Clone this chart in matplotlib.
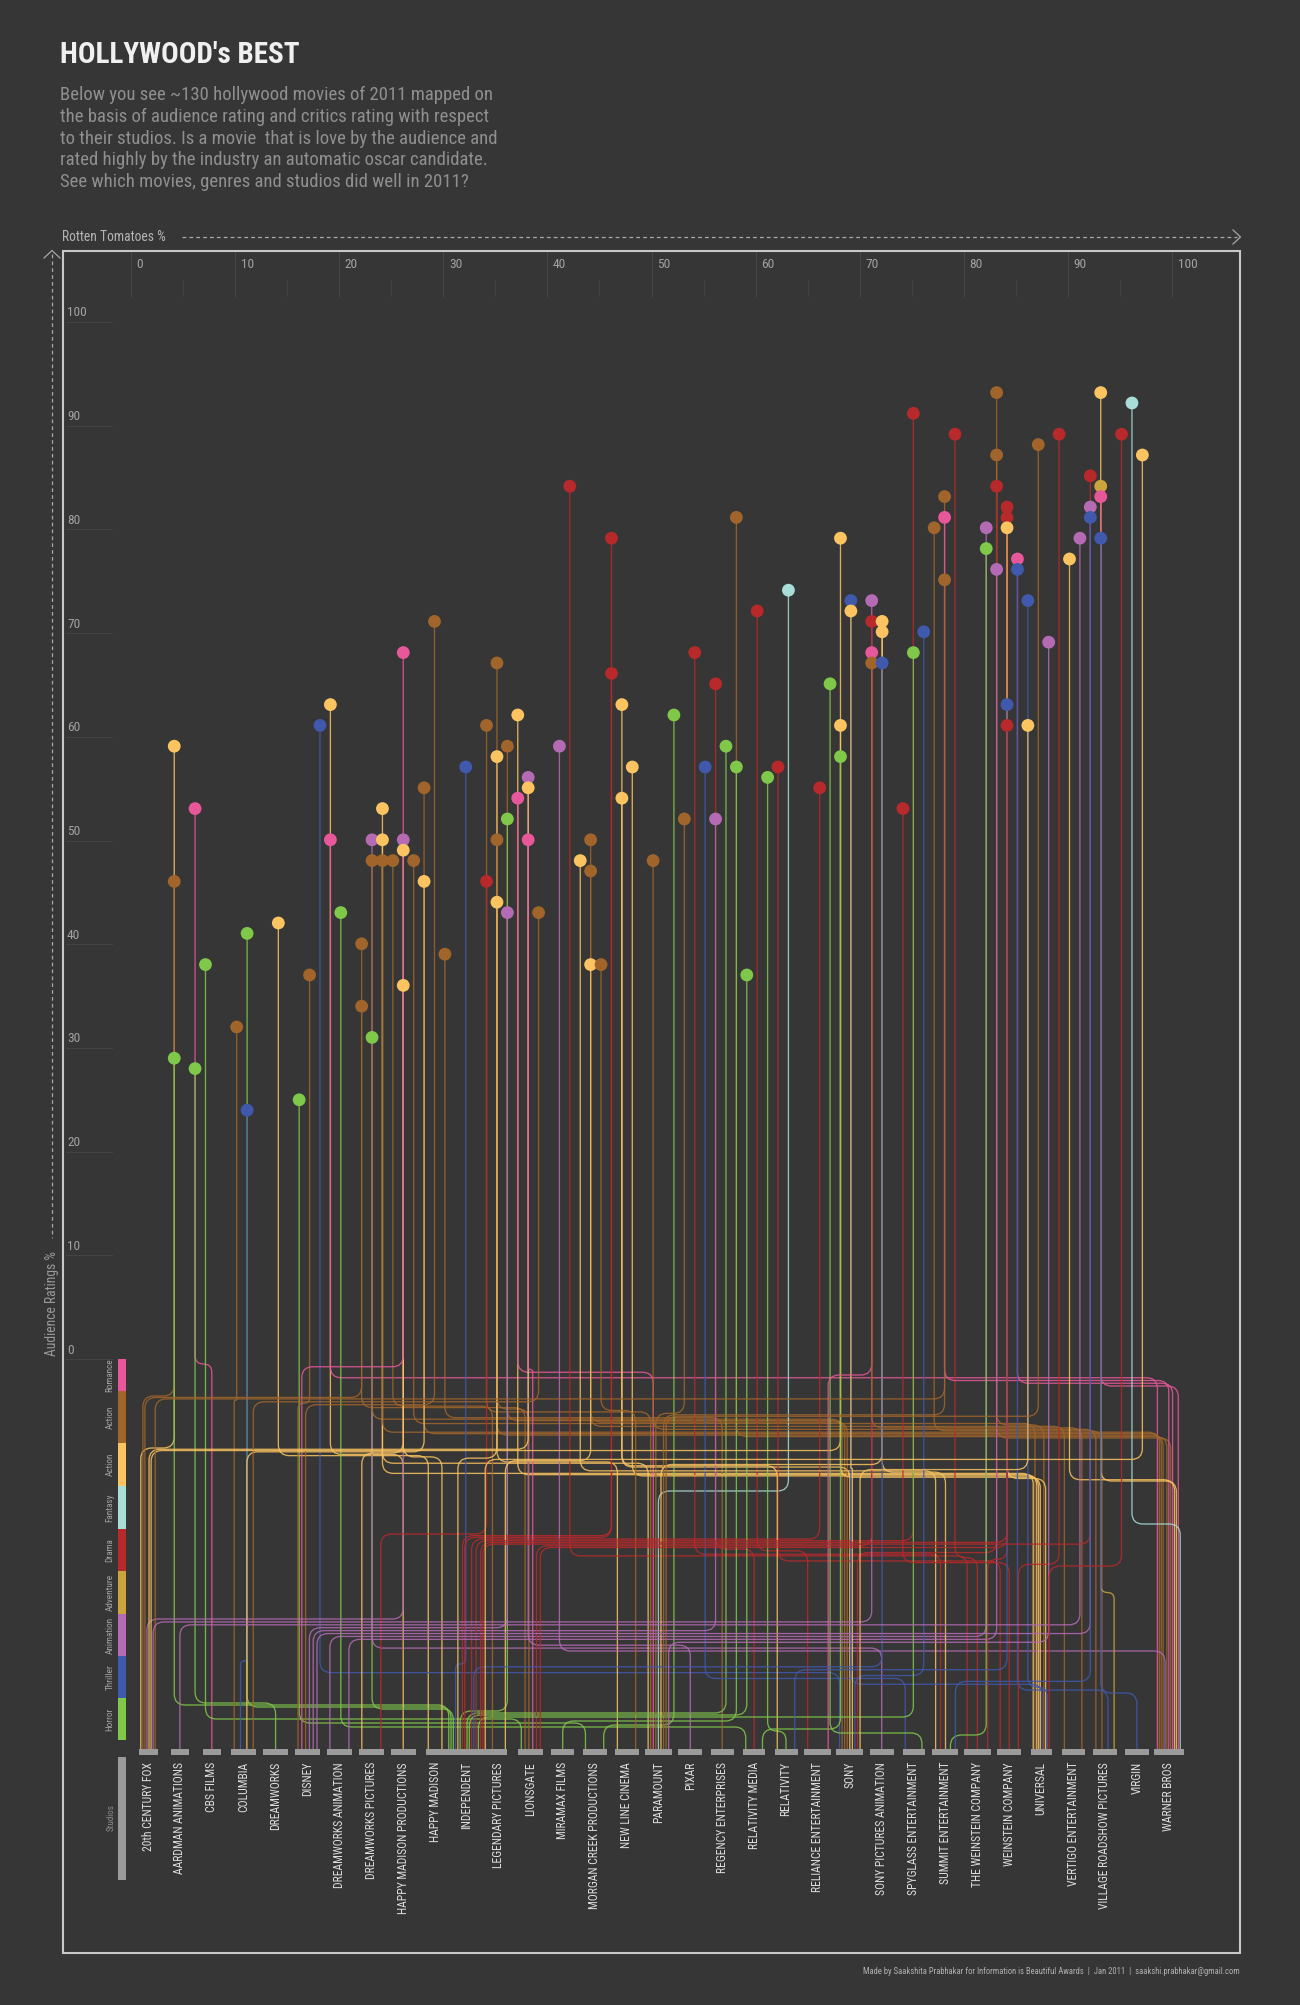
import numpy as np
import matplotlib
matplotlib.use('Agg')
import matplotlib.pyplot as plt
from matplotlib.path import Path
from matplotlib.patches import PathPatch, Rectangle
from matplotlib import font_manager as fm

# ---------------- data ----------------
critics = [4, 4, 4, 6, 6, 7, 10, 11, 11, 14, 16, 17, 18, 19, 19, 20, 22, 22, 23, 23, 23, 24, 24, 24, 25, 26, 26, 26, 26, 27,
           28, 28, 29, 30, 32, 34, 34, 35, 35, 35, 35, 36, 36, 36, 37, 37,
           42, 46, 58, 63, 60, 54, 46, 56, 47, 52, 41, 57, 48, 55, 58, 61, 62, 66, 38, 38, 47, 53, 56, 38, 44, 43, 44, 50,
           39, 44, 45, 59, 67, 68, 68, 68,
           75, 79, 83, 83, 83, 78, 78, 77, 82, 82, 83, 78, 69, 69, 71, 71, 72, 72, 71, 71, 72, 76, 75, 74,
           84, 84, 84, 84, 84, 85, 85, 86, 86, 87, 89, 88, 90, 91, 92, 92, 92, 93, 93, 93, 93, 96, 95, 97]
audience = [58, 45, 28, 52, 27, 37, 31, 40, 23, 41, 24, 36, 60, 62, 49, 42, 39, 33, 30, 49, 47, 52, 49, 47, 47, 49, 48, 35, 67, 47,
            54, 45, 70, 38, 56, 60, 45, 66, 57, 49, 43, 58, 51, 42, 61, 53,
            83, 78, 80, 73, 71, 67, 65, 64, 62, 61, 58, 58, 56, 56, 56, 55, 56, 54, 55, 54, 53, 51, 51, 49, 49, 47, 46, 47,
            42, 37, 37, 36, 64, 78, 60, 57,
            90, 88, 92, 86, 83, 82, 80, 79, 79, 77, 75, 74, 72, 71, 72, 70, 70, 69, 67, 66, 66, 69, 67, 52,
            81, 80, 79, 62, 60, 76, 75, 72, 60, 87, 88, 68, 76, 78, 84, 81, 80, 92, 83, 82, 78, 91, 88, 86]
genre_idx = [2, 1, 8, 0, 8, 8, 1, 8, 7, 2, 8, 1, 7, 2, 0, 8, 1, 1, 8, 6, 1, 2, 2, 1, 1, 6, 2, 2, 0, 1,
             1, 2, 1, 1, 7, 1, 4, 1, 2, 1, 2, 1, 8, 6, 2, 0,
             4, 4, 1, 3, 4, 4, 4, 4, 2, 8, 6, 8, 2, 7, 8, 8, 4, 4, 6, 2, 2, 1, 6, 0, 1, 2, 1, 1,
             1, 2, 1, 8, 8, 2, 2, 8,
             4, 4, 1, 1, 4, 1, 0, 1, 6, 8, 6, 1, 7, 2, 6, 4, 2, 2, 0, 1, 7, 7, 8, 4,
             4, 4, 2, 7, 4, 0, 7, 7, 2, 1, 4, 6, 2, 6, 4, 6, 7, 2, 5, 0, 7, 3, 4, 2]
studio_idx = [0, 0, 10, 2, 4, 12, 3, 10, 3, 9, 14, 5, 22, 8, 32, 19, 12, 0, 10, 23, 22, 16, 28, 32, 11, 0, 9, 7, 5, 28,
              32, 3, 5, 18, 10, 16, 7, 32, 10, 12, 15, 22, 10, 5, 28, 16,
              26, 10, 32, 16, 21, 25, 10, 19, 22, 14, 32, 10, 28, 24, 13, 20, 27, 10, 17, 0, 20, 16, 5, 12, 22, 25, 29, 30,
              3, 11, 15, 10, 24, 28, 0, 19,
              10, 26, 32, 28, 22, 16, 32, 30, 6, 25, 6, 0, 28, 22, 0, 12, 16, 25, 21, 29, 10, 22, 10, 27,
              26, 10, 28, 20, 12, 32, 30, 28, 22, 16, 27, 16, 32, 1, 10, 5, 25, 32, 30, 32, 31, 32, 28, 10]

genres = ['Romance', 'Action', 'Action', 'Fantasy', 'Drama', 'Adventure', 'Animation', 'Thriller', 'Horror']
studios = ['20th CENTURY FOX', 'AARDMAN ANIMATIONS', 'CBS FILMS', 'COLUMBIA', 'DREAMWORKS', 'DISNEY',
           'DREAMWORKS ANIMATION', 'DREAMWORKS PICTURES', 'HAPPY MADISON PRODUCTIONS', 'HAPPY MADISON',
           'INDEPENDENT', 'LEGENDARY PICTURES', 'LIONSGATE', 'MIRAMAX FILMS', 'MORGAN CREEK PRODUCTIONS',
           'NEW LINE CINEMA', 'PARAMOUNT', 'PIXAR', 'REGENCY ENTERPRISES', 'RELATIVITY MEDIA', 'RELATIVITY',
           'RELIANCE ENTERTAINMENT', 'SONY', 'SONY PICTURES ANIMATION', 'SPYGLASS ENTERTAINMENT',
           'SUMMIT ENTERTAINMENT', 'THE WEINSTEIN COMPANY', 'WEINSTEIN COMPANY', 'UNIVERSAL',
           'VERTIGO ENTERTAINMENT', 'VILLAGE ROADSHOW PICTURES', 'VIRGIN', 'WARNER BROS']
x_ticks = list(range(0, 101, 10))
y_ticks = list(range(100, -1, -10))

title = "HOLLYWOOD's BEST"
intro_lines = ["Below you see ~130 hollywood movies of 2011 mapped on",
               "the basis of audience rating and critics rating with respect",
               "to their studios. Is a movie  that is love by the audience and",
               "rated highly by the industry an automatic oscar candidate.",
               "See which movies, genres and studios did well in 2011?"]
footer = ("Made by Saakshita Prabhakar for Information is Beautiful Awards  |  Jan 2011  |  "
          "saakshi.prabhakar@gmail.com")

# ---------------- style / layout ----------------
genre_colors = ['#e9579b', '#a1652b', '#fbc461', '#a9ddd7', '#b8292b', '#cba53c', '#b46bb4', '#4059ad', '#80c84a']
band_px = [(1359, 1391), (1391, 1443), (1443, 1486), (1486, 1529), (1529, 1571),
           (1571, 1614), (1614, 1656), (1656, 1698), (1698, 1740)]
studio_bar_w = [19, 18, 18, 25, 25, 25, 25, 25, 25, 18, 48, 17, 25, 23, 24, 24, 27, 24,
                23, 22, 23, 27, 27, 24, 22, 26, 27, 24, 21, 23, 24, 24, 30]

BG = '#353635'
avail = {f.name for f in fm.fontManager.ttflist}


def pick(*names):
    for nm in names:
        if nm in avail:
            return nm
    return 'DejaVu Sans'


FONT = pick('Roboto Condensed', 'Liberation Sans Narrow', 'Open Sans Condensed', 'DejaVu Sans')
plt.rcParams['font.family'] = [FONT, 'DejaVu Sans']

W, H = 1300, 2005
fig = plt.figure(figsize=(W / 100, H / 100), dpi=100, facecolor=BG)
ax = fig.add_axes([0, 0, 1, 1])
X0P, XS, Y0P, YS = 132.6, 10.41, 1349.4, 10.4
ax.set_xlim(-X0P / XS, (W - X0P) / XS)
ax.set_ylim((Y0P - H) / YS, Y0P / YS)
ax.axis('off')


def dx(xp):
    return (xp - X0P) / XS


def dy(yp):
    return (Y0P - yp) / YS


def fx(xp):
    return xp / W


def fy(yp):
    return 1 - yp / H


# ---------------- header ----------------
fig.text(fx(60), fy(63), title, fontsize=21, fontweight='bold', color='#f0f0f0', va='baseline', ha='left')
for i, line in enumerate(intro_lines):
    fig.text(fx(60), fy(95 + 21.8 * i), line, fontsize=13.5, color='#8f8f8f', va='center', ha='left')

# frame
ax.add_patch(Rectangle((dx(63), dy(1953)), dx(1240) - dx(63), dy(251) - dy(1953),
                       fill=False, ec='#c8c8c8', lw=1.5, zorder=1))

# axis arrows
acol = '#a8a8a8'
fig.text(fx(62), fy(237), 'Rotten Tomatoes %', fontsize=9.8, color='#b4b4b4', va='center', ha='left')
ax.plot([dx(182), dx(1237)], [dy(237), dy(237)], color=acol, lw=0.9, ls=(0, (3, 2.5)))
ax.plot([dx(1233), dx(1240.5), dx(1233)], [dy(230), dy(237), dy(244)], color=acol, lw=0.9)
ax.plot([dx(52), dx(52)], [dy(254), dy(1238)], color=acol, lw=0.9, ls=(0, (3, 2.5)))
ax.plot([dx(44), dx(52), dx(60)], [dy(258), dy(250.5), dy(258)], color=acol, lw=0.9)
fig.text(fx(52), fy(1303), 'Audience Ratings %', fontsize=9.8, color='#9a9a9a', rotation=90,
         va='center', ha='center')

# ticks
for v in x_ticks:
    ax.plot([v - 0.15, v - 0.15], [dy(252), dy(296)], color='#464746', lw=0.8, zorder=0)
    if v < 100:
        ax.plot([v + 4.85, v + 4.85], [dy(281), dy(296)], color='#404140', lw=0.8, zorder=0)
    fig.text(fx(X0P + XS * v + 4), fy(264), str(v), fontsize=9.6, color='#a2a2a2', va='center', ha='left')
for v in y_ticks:
    yp = 313 + (100 - v) * 10.37
    ax.plot([dx(66), dx(112)], [dy(yp + 9), dy(yp + 9)], color='#424342', lw=0.8, zorder=0)
    fig.text(fx(67), fy(yp), str(v), fontsize=9.6, color='#a2a2a2', va='center', ha='left')

# genre legend
for g, (t, b) in enumerate(band_px):
    ax.add_patch(Rectangle((dx(118), dy(b)), dx(126) - dx(118), dy(t) - dy(b),
                           color=genre_colors[g], lw=0, zorder=3))
    fig.text(fx(110), fy((t + b) / 2), genres[g], fontsize=6.6, color='#a4a4a4', rotation=90,
             va='center', ha='center')

# studio legend
ax.add_patch(Rectangle((dx(118), dy(1880)), dx(126) - dx(118), dy(1757) - dy(1880),
                       color='#9b9b9b', lw=0, zorder=3))
fig.text(fx(111), fy(1818), 'Studios', fontsize=6.5, color='#8a8a8a', rotation=90, va='center', ha='center')

# ---------------- connectors ----------------
crit = np.array(critics, float)
aud = np.array(audience, float)
gi = np.array(genre_idx)
si = np.array(studio_idx)
n = len(crit)
studio_cx = [148 + 31.9 * s for s in range(len(studios))]

level_px = np.zeros(n)
for g in range(len(genres)):
    idx = [k for k in range(n) if gi[k] == g]
    idx.sort(key=lambda k: (si[k], crit[k]))
    t, b = band_px[g]
    levels = [(t + b) / 2] if len(idx) == 1 else np.linspace(t + 5, b - 5, len(idx))
    for k, lv in zip(idx, levels):
        level_px[k] = lv

desc_px = np.zeros(n)
for s in range(len(studios)):
    idx = [k for k in range(n) if si[k] == s]
    idx.sort(key=lambda k: crit[k])
    cx, w = studio_cx[s], studio_bar_w[s]
    xs = [cx] if len(idx) == 1 else np.linspace(cx - 0.38 * w, cx + 0.38 * w, len(idx))
    for k, xv in zip(idx, xs):
        desc_px[k] = xv

R = 11.0
YB = 1749
for k in range(n):
    xm, am = crit[k], aud[k]
    xm_px = X0P + XS * xm
    yl, xs = level_px[k], desc_px[k]
    d = xs - xm_px
    if abs(d) < 0.8:
        verts = [(xm, am), (xm, dy(YB))]
        codes = [Path.MOVETO, Path.LINETO]
    else:
        sg = np.sign(d)
        r = min(R, abs(d) / 2)
        verts = [(xm, am), (xm, dy(yl - r)), (xm, dy(yl)), (dx(xm_px + sg * r), dy(yl)),
                 (dx(xs - sg * r), dy(yl)), (dx(xs), dy(yl)), (dx(xs), dy(yl + r)), (dx(xs), dy(YB))]
        codes = [Path.MOVETO, Path.LINETO, Path.CURVE3, Path.CURVE3, Path.LINETO,
                 Path.CURVE3, Path.CURVE3, Path.LINETO]
    ax.add_patch(PathPatch(Path(verts, codes), fill=False, ec=genre_colors[gi[k]],
                           lw=0.95, alpha=0.85, zorder=2, capstyle='butt'))

# dots
ax.scatter(crit, aud, s=85, c=[genre_colors[g] for g in gi], linewidths=0, zorder=5)

# studio bars & labels
for s, name in enumerate(studios):
    cx, w = studio_cx[s], studio_bar_w[s]
    ax.add_patch(Rectangle((dx(cx - w / 2), dy(1755)), w / XS, 6 / YS, color='#9b9b9b', lw=0, zorder=4))
    fig.text(fx(cx), fy(1762), name, fontsize=8.4, color='#dedede', rotation=90, va='top', ha='center')

fig.text(fx(1240), fy(1972), footer, fontsize=6.2, color='#b0b0b0', va='center', ha='right')

fig.savefig('out.png', dpi=100, facecolor=BG)
